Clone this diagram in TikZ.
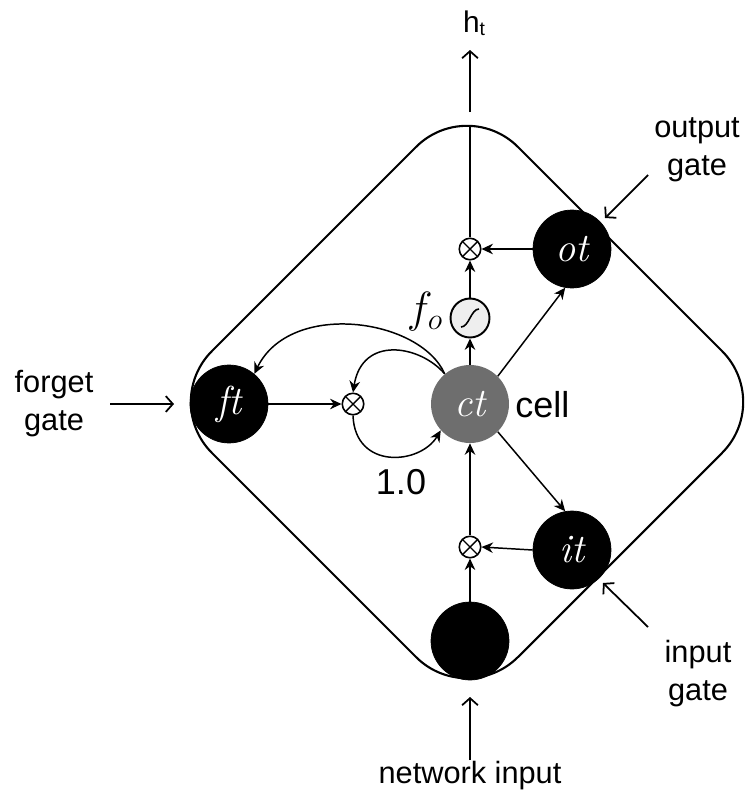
\documentclass[tikz,border=0pt]{standalone}
\usepackage{fontspec}
\newfontfamily\arial{Liberation Sans}
\usetikzlibrary{arrows.meta,calc}
\definecolor{cellgray}{RGB}{110,110,110}
\definecolor{sigfill}{RGB}{238,238,238}
\begin{document}
\begin{tikzpicture}[x=0.02cm,y=-0.02cm,
  gatenode/.style={circle, fill=black, draw=black, minimum size=1.56cm, inner sep=0pt, text=white, font=\fontsize{23}{23}\selectfont\itshape},
  cellnode/.style={circle, fill=cellgray, minimum size=1.56cm, inner sep=0pt, text=white, font=\fontsize{23}{23}\selectfont\itshape},
  mult/.style={circle, draw, line width=0.9pt, fill=white, minimum size=0.43cm, inner sep=0pt,
    path picture={\draw[line width=0.8pt] (path picture bounding box.north west) -- (path picture bounding box.south east)
      (path picture bounding box.north east) -- (path picture bounding box.south west);}},
  signode/.style={circle, draw, line width=1.1pt, fill=sigfill, minimum size=0.78cm, inner sep=0pt},
  flow/.style={line width=0.85pt, -{Stealth[length=6.5pt,width=6pt]}},
  ext/.style={line width=1pt, -{Straight Barb[length=4pt,width=9pt]}},
  lbl/.style={font=\arial\fontsize{17.5}{21}\selectfont, inner sep=0pt, anchor=base},
  biglbl/.style={font=\arial\fontsize{20.5}{24}\selectfont, inner sep=0pt, anchor=base},
]
\useasboundingbox (0,0) rectangle (745,805);

% rounded diamond
\draw[line width=1.2pt, rounded corners=1.44cm]
  (620,249) -- (773,402) -- (467,708) -- (161,402) -- (467,96) -- (620,249);

% nodes
\node[gatenode] (ft) at (229,404) {ft};
\node[mult] (mx) at (353,404) {};
\node[cellnode] (ct) at (470,404) {ct};
\node[signode] (sig) at (470,318) {};
\node[mult] (mt) at (470,249) {};
\node[gatenode] (ot) at (572,249) {ot};
\node[gatenode] (it) at (572,550) {it};
\node[mult] (mb) at (470,547) {};
\node[gatenode] (inp) at (470,641) {};

% sigmoid glyph
\draw[line width=0.9pt] ($(sig.center)+(-9,9)$) .. controls ($(sig.center)+(-1,9)$) and ($(sig.center)+(1,-9)$) .. ($(sig.center)+(9,-9)$);

% coordinates for free ends
\coordinate (dtop) at (470,125);
\coordinate (htail) at (470,112);
\coordinate (hhead) at (470,50);
\coordinate (ogtail) at (648,175);
\coordinate (oghead) at (605,218);
\coordinate (fgtail) at (110,404);
\coordinate (fghead) at (174,404);
\coordinate (igtail) at (648,627);
\coordinate (ighead) at (603,583);
\coordinate (nitail) at (470,760);
\coordinate (nihead) at (470,697);

% internal connectors
\draw[flow] (ft.east) -- (mx.west);
\draw[flow] (ct.north) -- (sig.south);
\draw[flow] (sig.north) -- (mt.south);
\draw[flow] (ot.west) -- (mt.east);
\draw[line width=0.85pt] (mt.north) -- (dtop);
\draw[flow] (ct.45) -- (ot.260);
\draw[flow] (ct.-45) -- (it.100);
\draw[flow] (it.west) -- (mb.east);
\draw[flow] (inp.north) -- (mb.south);
\draw[flow] (mb.north) -- (ct.south);
\draw[flow] (ct.130) .. controls (420,318) and (290,300) .. (ft.50);
\draw[flow] (ct.130) .. controls (420,345) and (362,335) .. (mx.north);
\draw[flow] (mx.south) .. controls (355,470) and (420,465) .. (ct.222);

% external arrows
\draw[ext] (htail) -- (hhead);
\draw[ext] (ogtail) -- (oghead);
\draw[ext] (fgtail) -- (fghead);
\draw[ext] (igtail) -- (ighead);
\draw[ext] (nitail) -- (nihead);

% labels
\node[font=\arial\fontsize{17}{20}\selectfont, inner sep=0pt, anchor=base] (hlbl) at (474,32) {h\raisebox{-0.12em}{\fontsize{11}{11}\selectfont t}};
\node[lbl] (og1) at (697,137) {output};
\node[lbl] (og2) at (697,175) {gate};
\node[lbl] (fg1) at (54,392) {forget};
\node[lbl] (fg2) at (54,430) {gate};
\node[lbl] (ig1) at (698,662) {input};
\node[lbl] (ig2) at (698,700) {gate};
\node[lbl] (nil) at (470,783) {network input};
\node[biglbl, anchor=base west] (celll) at (515,417) {cell};
\node[biglbl] (one) at (401,494) {1.0};
\node[font=\fontsize{23}{23}\selectfont, inner sep=0pt] (fol) at (425,312) {$f_o$};
\end{tikzpicture}
\end{document}
